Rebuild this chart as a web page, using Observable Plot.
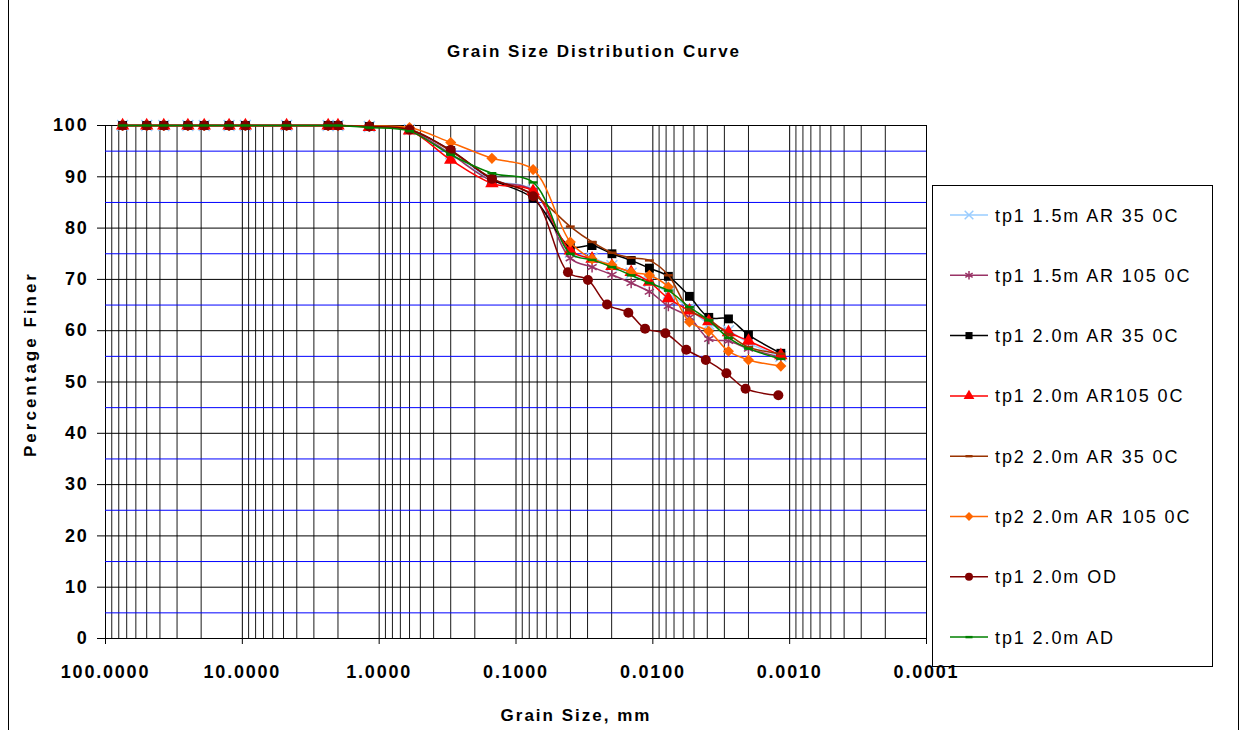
<!DOCTYPE html>
<html>
<head>
<meta charset="utf-8">
<script src="https://cdn.jsdelivr.net/npm/d3@7"></script>
<script src="https://cdn.jsdelivr.net/npm/@observablehq/plot@0.6"></script>
<style>
  body { margin: 0; background: #fff; }
  #wrap { position: relative; width: 1243px; height: 730px; overflow: hidden; background: #fff; }
  svg { display: block; }
</style>
</head>
<body>
<div id="wrap"></div>
<script>
// ---------------- DATA ----------------
const seriesNames = [
  "tp1 1.5m AR 35 0C",
  "tp1 1.5m AR 105 0C",
  "tp1 2.0m AR 35 0C",
  "tp1 2.0m AR105 0C",
  "tp2 2.0m AR 35 0C",
  "tp2 2.0m AR 105 0C",
  "tp1 2.0m OD",
  "tp1 2.0m AD"
];
const seriesColors = ["#99CCFF", "#993366", "#000000", "#FF0000", "#993300", "#FF6600", "#800000", "#008000"];

// grain sizes (mm)
const sieveSizes = [75, 50, 37.5, 25, 19, 12.5, 9.5, 4.75, 2.36, 2.0, 1.18, 0.6, 0.3, 0.15, 0.075];
const hydroSizes = [0.0401, 0.0278, 0.0199, 0.0144, 0.0106, 0.0077, 0.0054, 0.0039, 0.0028, 0.0020, 0.00116];
const hydroSizesOD = [0.0417, 0.0298, 0.0216, 0.0151, 0.0114, 0.0081, 0.0057, 0.0041, 0.0029, 0.0021, 0.00121];

// percentage finer
const pctTp1_15_AR35  = [100,100,100,100,100,100,100,100,100,100, 99.8, 99.2, 94.5, 89.4, 87.4, 75.3, 74.2, 72.7, 71.2, 69.6, 67.3, 64.3, 61.3, 60.0, 57.6, 55.0];
const pctTp1_15_AR105 = [100,100,100,100,100,100,100,100,100,100, 99.8, 99.1, 94.4, 89.2, 87.3, 74.1, 72.4, 70.9, 69.3, 67.6, 64.8, 62.6, 58.4, 58.0, 56.5, 54.8];
const pctTp1_20_AR35  = [100,100,100,100,100,100,100,100,100,100, 99.8, 99.2, 95.1, 89.5, 85.8, 76.4, 76.6, 75.0, 73.7, 72.2, 70.6, 66.7, 62.6, 62.3, 59.2, 55.6];
const pctTp1_20_AR105 = [100,100,100,100,100,100,100,100,100,100, 99.7, 99.0, 93.3, 88.7, 87.2, 75.6, 74.0, 72.6, 71.4, 69.5, 66.3, 63.9, 61.8, 59.7, 58.0, 55.2];
const pctTp2_20_AR35  = [100,100,100,100,100,100,100,100,100,100, 99.8, 99.3, 95.0, 89.7, 86.6, 80.3, 77.3, 75.2, 74.2, 73.7, 70.8, 64.0, 62.2, 59.3, 56.8, 55.5];
const pctTp2_20_AR105 = [100,100,100,100,100,100,100,100,100,100, 99.9, 99.6, 96.7, 93.6, 91.4, 77.3, 74.0, 72.8, 71.4, 70.8, 68.5, 61.7, 59.9, 56.0, 54.3, 53.1];
const pctTp1_20_OD    = [100,100,100,100,100,100,100,100,100,100, 99.8, 99.2, 95.2, 89.6, 86.2, 71.4, 69.9, 65.1, 63.5, 60.4, 59.5, 56.3, 54.3, 51.7, 48.7, 47.4];
const pctTp1_20_AD    = [100,100,100,100,100,100,100,100,100,100, 99.6, 98.9, 94.3, 90.7, 88.9, 75.0, 73.8, 72.4, 70.8, 69.3, 67.8, 64.6, 62.0, 58.6, 56.5, 54.5];

// axis ticks
const xMajorTicks = [100, 10, 1, 0.1, 0.01, 0.001, 0.0001];
const yTenTicks = [0, 10, 20, 30, 40, 50, 60, 70, 80, 90, 100];
const yFiveLines = [5, 15, 25, 35, 45, 55, 65, 75, 85, 95];

// ---------------- BUILD ----------------
const symDash = {
  draw(ctx, size) {
    const w = Math.sqrt(size);
    ctx.moveTo(-w / 2, -1.2); ctx.lineTo(w / 2, -1.2); ctx.lineTo(w / 2, 1.2); ctx.lineTo(-w / 2, 1.2); ctx.closePath();
  }
};
const seriesSymbols = [d3.symbolTimes, d3.symbolAsterisk, d3.symbolSquare, d3.symbolTriangle, symDash, d3.symbolDiamond2, d3.symbolCircle, symDash];
const strokeSymbols = [true, true, false, false, false, false, false, false];
const seriesPct = [pctTp1_15_AR35, pctTp1_15_AR105, pctTp1_20_AR35, pctTp1_20_AR105, pctTp2_20_AR35, pctTp2_20_AR105, pctTp1_20_OD, pctTp1_20_AD];
const seriesSizes = seriesNames.map((n, i) => sieveSizes.concat(i === 6 ? hydroSizesOD : hydroSizes));

const series = seriesNames.map((name, i) => ({
  name, color: seriesColors[i], symbol: seriesSymbols[i], stroked: strokeSymbols[i],
  rows: seriesSizes[i].map((s, j) => ({ size: s, pct: seriesPct[i][j] }))
}));

// minor log grid values
const xMinor = [];
for (let e = -4; e <= 1; e++) for (let k = 2; k <= 9; k++) xMinor.push(+(k * Math.pow(10, e)).toPrecision(3));

const marks = [
  Plot.ruleX(xMinor, { stroke: "#1a1a1a", strokeWidth: 1 }),
  Plot.ruleX(xMajorTicks, { stroke: "#000", strokeWidth: 1 }),
  Plot.ruleY(yFiveLines, { stroke: "#0000FF", strokeWidth: 1 }),
  Plot.ruleY(yTenTicks, { stroke: "#000", strokeWidth: 1 }),
  Plot.axisX({ ticks: xMajorTicks, tickFormat: d3.format(".4f"), tickSize: 6, tickPadding: 21, fontSize: 18, fontWeight: "bold", label: null, stroke: "#000" }),
  Plot.axisY({ ticks: yTenTicks, tickSize: 8, tickPadding: 9, fontSize: 18, fontWeight: "bold", label: null, stroke: "#000" })
];
series.forEach(s => {
  marks.push(Plot.line(s.rows, { x: "size", y: "pct", stroke: s.color, strokeWidth: 1.5, curve: "catmull-rom" }));
  marks.push(Plot.dot(s.rows, s.stroked
    ? { x: "size", y: "pct", symbol: s.symbol, r: 5, stroke: s.color, fill: "none", strokeWidth: 1.5 }
    : { x: "size", y: "pct", symbol: s.symbol, r: 5, fill: s.color, stroke: "none" }));
});

const chart = Plot.plot({
  width: 1243,
  height: 730,
  marginLeft: 105,
  marginRight: 317,
  marginTop: 125,
  marginBottom: 92,
  x: { type: "log", domain: [100, 0.0001] },
  y: { domain: [0, 100] },
  style: { fontFamily: "'Liberation Sans', Arial, sans-serif", background: "#fff", color: "#000" },
  marks
});

const svg = d3.select(chart);
svg.selectAll('g[aria-label="x-axis tick label"] text, g[aria-label="y-axis tick label"] text').style("letter-spacing", "1.8px");

const font = "'Liberation Sans', Arial, sans-serif";
// title
svg.append("text").attr("x", 594).attr("y", 57).attr("text-anchor", "middle")
  .attr("font-family", font).attr("font-size", 17).attr("font-weight", "bold").style("letter-spacing", "2px")
  .attr("fill", "#000").text("Grain Size Distribution Curve");
// x title
svg.append("text").attr("x", 576).attr("y", 721).attr("text-anchor", "middle")
  .attr("font-family", font).attr("font-size", 17).attr("font-weight", "bold").style("letter-spacing", "2px")
  .attr("fill", "#000").text("Grain Size, mm");
// y title
svg.append("text").attr("transform", "translate(36,364) rotate(-90)").attr("text-anchor", "middle")
  .attr("font-family", font).attr("font-size", 17).attr("font-weight", "bold").style("letter-spacing", "3px")
  .attr("fill", "#000").text("Percentage Finer");
// outer chart border (sides)
svg.append("line").attr("x1", 8.5).attr("x2", 8.5).attr("y1", 0).attr("y2", 730).attr("stroke", "#000");
svg.append("line").attr("x1", 1238.5).attr("x2", 1238.5).attr("y1", 0).attr("y2", 730).attr("stroke", "#000");

// legend
const lg = svg.append("g").attr("text-anchor", "start");
lg.append("rect").attr("x", 932.5).attr("y", 185.5).attr("width", 280).attr("height", 481)
  .attr("fill", "none").attr("stroke", "#000").attr("stroke-width", 1);
series.forEach((s, i) => {
  const y = 215 + i * 60.3;
  lg.append("line").attr("x1", 950).attr("x2", 988).attr("y1", y).attr("y2", y).attr("stroke", s.color).attr("stroke-width", 1.5);
  const p = lg.append("path").attr("transform", `translate(969,${y})`).attr("d", d3.symbol(s.symbol, Math.PI * 16)());
  if (s.stroked) p.attr("fill", "none").attr("stroke", s.color).attr("stroke-width", 1.5);
  else p.attr("fill", s.color);
  lg.append("text").attr("x", 995).attr("y", y + 6.5).attr("text-anchor", "start").attr("font-family", font).attr("font-size", 18)
    .style("letter-spacing", "1.9px").attr("fill", "#000").text(s.name);
});

document.getElementById("wrap").appendChild(chart);
</script>
</body>
</html>
